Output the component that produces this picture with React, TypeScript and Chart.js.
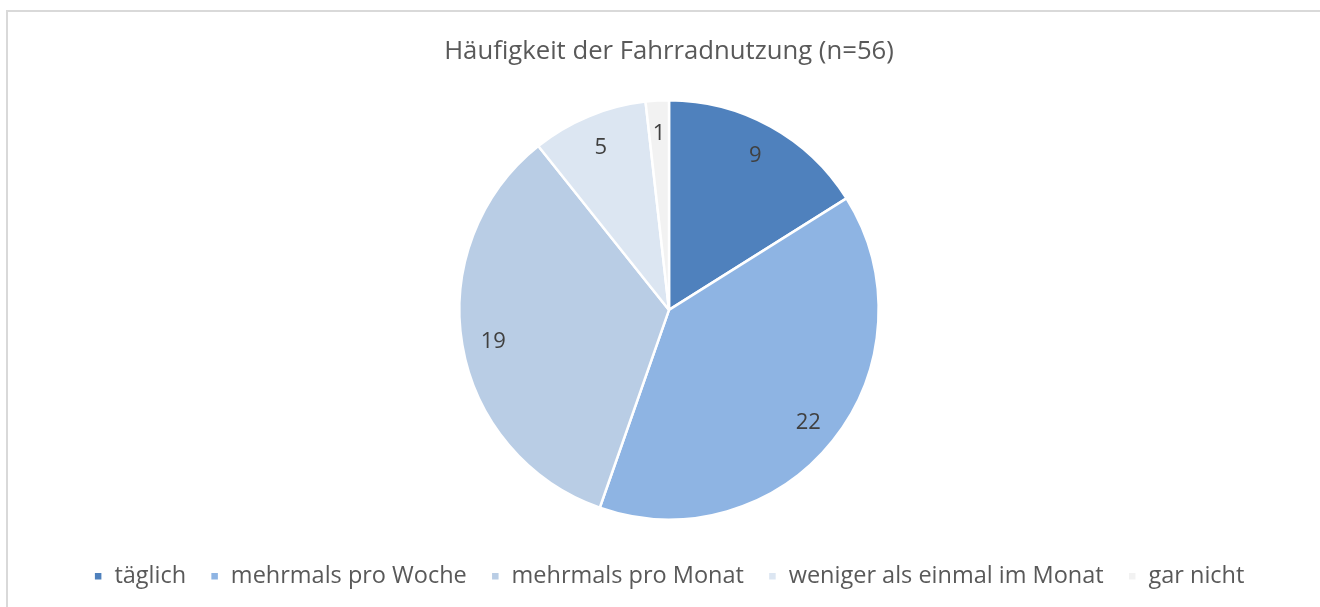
import React, { useEffect, useRef } from "react";
import { Chart, registerables } from "chart.js";

Chart.register(...registerables);

const categories = [
  "täglich",
  "mehrmals pro Woche",
  "mehrmals pro Monat",
  "weniger als einmal im Monat",
  "gar nicht",
];
const values = [9, 22, 19, 5, 1];
const colors = ["#4f81bd", "#8eb4e3", "#b9cde5", "#dce6f2", "#f2f2f2"];
const titleText = "Häufigkeit der Fahrradnutzung (n=56)";

const FONT = "'Open Sans', sans-serif";

const labelPlugin = {
  id: "sliceLabels",
  afterDatasetsDraw(chart: any) {
    const ctx = chart.ctx;
    const meta = chart.getDatasetMeta(0);
    ctx.save();
    ctx.font = `22px ${FONT}`;
    ctx.fillStyle = "#404040";
    ctx.textAlign = "center";
    ctx.textBaseline = "middle";
    meta.data.forEach((arc: any, i: number) => {
      const p = arc.getProps(["startAngle", "endAngle", "outerRadius", "x", "y"], true);
      const mid = (p.startAngle + p.endAngle) / 2;
      const r = p.outerRadius * 0.85;
      ctx.fillText(String(values[i]), p.x + Math.cos(mid) * r, p.y + 2 + Math.sin(mid) * r);
    });
    ctx.restore();
  },
};

export default function App() {
  const ref = useRef<HTMLCanvasElement>(null);
  useEffect(() => {
    if (!ref.current) return;
    const chart = new Chart(ref.current, {
      type: "pie",
      data: {
        labels: categories,
        datasets: [
          {
            data: values,
            backgroundColor: colors,
            borderColor: "#ffffff",
            borderWidth: 2.5,
          },
        ],
      },
      options: {
        animation: false,
        responsive: false,
        maintainAspectRatio: false,
        layout: { padding: { left: 18, right: 0, top: 0, bottom: 9 } },
        plugins: {
          title: {
            display: true,
            text: titleText,
            color: "#595959",
            font: { family: FONT, size: 25.7, weight: "normal" },
            padding: { top: 36.6, bottom: 31.6 },
          },
          subtitle: {
            display: true,
            text: " ",
            position: "bottom",
            weight: 500,
            font: { size: 1 },
            padding: { top: 18.5, bottom: 0 },
          },
          legend: {
            position: "bottom",
            labels: {
              color: "#595959",
              font: { family: FONT, size: 23.5 },
              boxWidth: 9,
              boxHeight: 9,
              padding: 24,
            },
          },
          tooltip: { enabled: false },
        },
      },
      plugins: [labelPlugin],
    });
    return () => chart.destroy();
  }, []);
  return (
    <div style={{ position: "absolute", left: 0, top: 0, width: 1320, height: 607, background: "#fff", overflow: "hidden" }}>
      <div
        style={{
          position: "absolute",
          left: 6,
          top: 10,
          width: 1330,
          height: 620,
          border: "2px solid #d9d9d9",
          boxSizing: "border-box",
        }}
      />
      <canvas ref={ref} width={1320} height={607} style={{ position: "absolute", left: 0, top: 0 }} />
    </div>
  );
}
